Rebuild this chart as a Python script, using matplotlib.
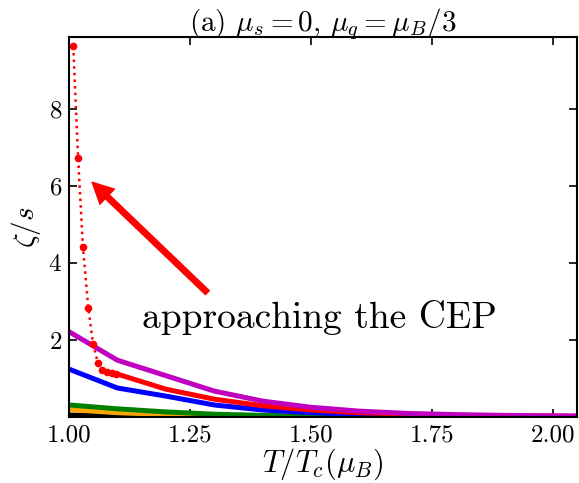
import numpy as np
import matplotlib
matplotlib.use("Agg")
import matplotlib.pyplot as plt

plt.rcParams["font.family"] = "serif"
plt.rcParams["font.serif"] = ["cmr10", "DejaVu Serif"]
plt.rcParams["mathtext.fontset"] = "cm"
plt.rcParams["axes.formatter.use_mathtext"] = True

# T/Tc grid for the solid curves
T_GRID = [1.0, 1.1, 1.2, 1.3, 1.4, 1.5, 1.6, 1.7, 1.8, 1.9, 2.0, 2.1]

MAGENTA = [2.22, 1.48, 1.08, 0.68, 0.42, 0.26, 0.16, 0.10, 0.07, 0.05, 0.04, 0.03]
BLUE = [1.25, 0.76, 0.55, 0.32, 0.19, 0.12, 0.07, 0.05, 0.03, 0.02, 0.015, 0.01]
GREEN = [0.32, 0.22, 0.14, 0.08, 0.05, 0.03, 0.02, 0.015, 0.012, 0.01, 0.01, 0.01]
ORANGE = [0.20, 0.12, 0.07, 0.04, 0.02, 0.015, 0.012, 0.01, 0.01, 0.01, 0.01, 0.01]
BLACK = [0.06, 0.04, 0.025, 0.015, 0.01, 0.008, 0.006, 0.005, 0.005, 0.005, 0.005, 0.005]

# red curve: solid part starts at T/Tc = 1.1
RED_T = [1.1, 1.2, 1.3, 1.4, 1.5, 1.6, 1.7, 1.8, 1.9, 2.0, 2.1]
RED = [1.12, 0.73, 0.47, 0.30, 0.19, 0.12, 0.08, 0.05, 0.04, 0.03, 0.02]

# near the CEP: dotted red with markers
CEP_T = [1.009, 1.019, 1.029, 1.040, 1.050, 1.060, 1.069, 1.078, 1.088, 1.098]
CEP_Z = [9.61, 6.73, 4.41, 2.84, 1.90, 1.40, 1.23, 1.18, 1.15, 1.13]

fig = plt.figure(figsize=(5.79, 4.83), dpi=100)
ax = fig.add_axes([0.119, 0.136, 0.878, 0.788])

lw = 3.6
ax.plot(T_GRID, BLACK, color="black", lw=lw)
ax.plot(T_GRID, ORANGE, color="orange", lw=lw)
ax.plot(T_GRID, GREEN, color="green", lw=lw)
ax.plot(T_GRID, BLUE, color="blue", lw=lw)
ax.plot(RED_T, RED, color="red", lw=lw)
ax.plot(T_GRID, MAGENTA, color="m", lw=lw)
ax.plot(CEP_T, CEP_Z, color="red", ls=":", lw=1.8, marker="o", ms=4.5)

ax.annotate("", xy=(1.048, 6.09), xytext=(1.286, 3.23),
            arrowprops=dict(color="red", width=4, headwidth=15, headlength=15))
ax.text(1.151, 2.58, "approaching the CEP", fontsize=27, ha="left", va="center")

ax.set_xlim(1.0, 2.05)
ax.set_ylim(0, 9.86)
ax.set_xticks([1.0, 1.25, 1.5, 1.75, 2.0])
ax.set_xticklabels(["1.00", "1.25", "1.50", "1.75", "2.00"])
ax.set_yticks([2, 4, 6, 8])
ax.tick_params(direction="in", top=True, right=True, length=6, width=1.2,
               labelsize=18, pad=5)
for sp in ax.spines.values():
    sp.set_linewidth(1.5)

ax.set_xlabel(r"$T/T_c(\mu_B)$", fontsize=22, labelpad=0)
ax.set_ylabel(r"$\zeta/s$", fontsize=21, labelpad=4)
ax.set_title(r"(a) $\mu_s=0$, $\mu_q=\mu_B/3$", fontsize=21, pad=4)

fig.savefig("out.png", dpi=100, facecolor="white")
